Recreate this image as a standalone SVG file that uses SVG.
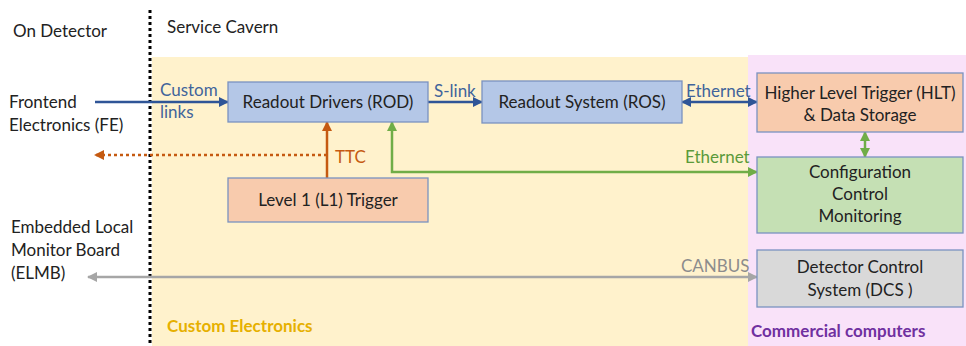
<svg xmlns="http://www.w3.org/2000/svg" width="966" height="346" viewBox="0 0 966 346">
<style>
text{font-family:Lato,"Open Sans","Liberation Sans",sans-serif;font-size:17px;fill:#222}
.c{text-anchor:middle}
.box{stroke:#7a92c0;stroke-width:1.3}
.blue{fill:#b4c7e7}.org{fill:#f8cbad}.grn{fill:#c5e0b4}.gry{fill:#d9d9d9}
</style>
<defs>
<marker id="ab" viewBox="0 0 10 10" refX="9" refY="5" markerWidth="4" markerHeight="4" orient="auto-start-reverse"><path d="M0,0L10,5L0,10z" fill="#2f5597"/></marker>
<marker id="ag" viewBox="0 0 10 10" refX="9" refY="5" markerWidth="4" markerHeight="4" orient="auto-start-reverse"><path d="M0,0L10,5L0,10z" fill="#70ad47"/></marker>
<marker id="ao" viewBox="0 0 10 10" refX="9" refY="5" markerWidth="4" markerHeight="4" orient="auto-start-reverse"><path d="M0,0L10,5L0,10z" fill="#c55a11"/></marker>
<marker id="ay" viewBox="0 0 10 10" refX="9" refY="5" markerWidth="4" markerHeight="4" orient="auto-start-reverse"><path d="M0,0L10,5L0,10z" fill="#a6a6a6"/></marker>
</defs>
<rect width="966" height="346" fill="#fff"/>
<g id="regions">
<rect x="152" y="57" width="596" height="289" fill="#fff2cc"/>
<rect x="748" y="55" width="218" height="291" fill="#f9e2f9"/>
<line x1="150" y1="10" x2="150" y2="346" stroke="#000" stroke-width="3" stroke-dasharray="3,3"/>
<text x="13" y="37">On Detector</text>
<text x="167" y="33">Service Cavern</text>
<text x="167" y="332" style="fill:#e6b000;font-weight:bold">Custom Electronics</text>
<text x="751" y="337" style="fill:#7030a0;font-weight:bold">Commercial computers</text>
</g>
<g id="fe"><text x="9" y="108">Frontend</text><text x="9" y="131">Electronics (FE)</text></g>
<g id="elmb"><text x="11" y="233">Embedded Local</text><text x="11" y="256">Monitor Board</text><text x="11" y="279">(ELMB)</text></g>
<g id="connectors" fill="none" stroke-width="2.5">
<line x1="95" y1="102" x2="228" y2="102" stroke="#2f5597" marker-end="url(#ab)"/>
<line x1="428" y1="102" x2="482" y2="102" stroke="#2f5597" marker-end="url(#ab)"/>
<line x1="682" y1="102" x2="757" y2="102" stroke="#2f5597" marker-start="url(#ab)" marker-end="url(#ab)"/>
<line x1="865" y1="132" x2="865" y2="157" stroke="#70ad47" marker-start="url(#ag)" marker-end="url(#ag)"/>
<polyline points="757,172 392,172 392,122" stroke="#70ad47" marker-start="url(#ag)" marker-end="url(#ag)"/>
<line x1="327" y1="178" x2="327" y2="122" stroke="#c55a11" marker-end="url(#ao)"/>
<line x1="327" y1="155" x2="95" y2="155" stroke="#c55a11" stroke-dasharray="3,3" marker-end="url(#ao)"/>
<line x1="757" y1="277" x2="88" y2="277" stroke="#a6a6a6" marker-start="url(#ay)" marker-end="url(#ay)"/>
<text x="160" y="96" style="fill:#41649b">Custom</text>
<text x="160" y="118" style="fill:#41649b">links</text>
<text x="434" y="97" style="fill:#41649b">S-link</text>
<text x="686" y="97" style="fill:#41649b">Ethernet</text>
<text x="685" y="163" style="fill:#5b9a3a">Ethernet</text>
<text x="335" y="163" style="fill:#c55a11">TTC</text>
<text x="681" y="272" style="fill:#8c8c8c">CANBUS</text>
</g>
<g id="rod"><rect class="box blue" x="228" y="82" width="200" height="40"/><text class="c" x="328" y="108">Readout Drivers (ROD)</text></g>
<g id="ros"><rect class="box blue" x="482" y="81" width="200" height="42"/><text class="c" x="582" y="108">Readout System (ROS)</text></g>
<g id="l1"><rect class="box org" x="228" y="178" width="200" height="44"/><text class="c" x="328" y="206">Level 1 (L1) Trigger</text></g>
<g id="hlt"><rect class="box org" x="757" y="73" width="206" height="59"/><text class="c" x="860" y="99">Higher Level Trigger (HLT)</text><text class="c" x="860" y="121">&amp; Data Storage</text></g>
<g id="config"><rect class="box grn" x="757" y="157" width="206" height="76"/><text class="c" x="860" y="178">Configuration</text><text class="c" x="860" y="200">Control</text><text class="c" x="860" y="222">Monitoring</text></g>
<g id="dcs"><rect class="box gry" x="757" y="250" width="206" height="57"/><text class="c" x="860" y="273">Detector Control</text><text class="c" x="860" y="296">System (DCS )</text></g>
</svg>
